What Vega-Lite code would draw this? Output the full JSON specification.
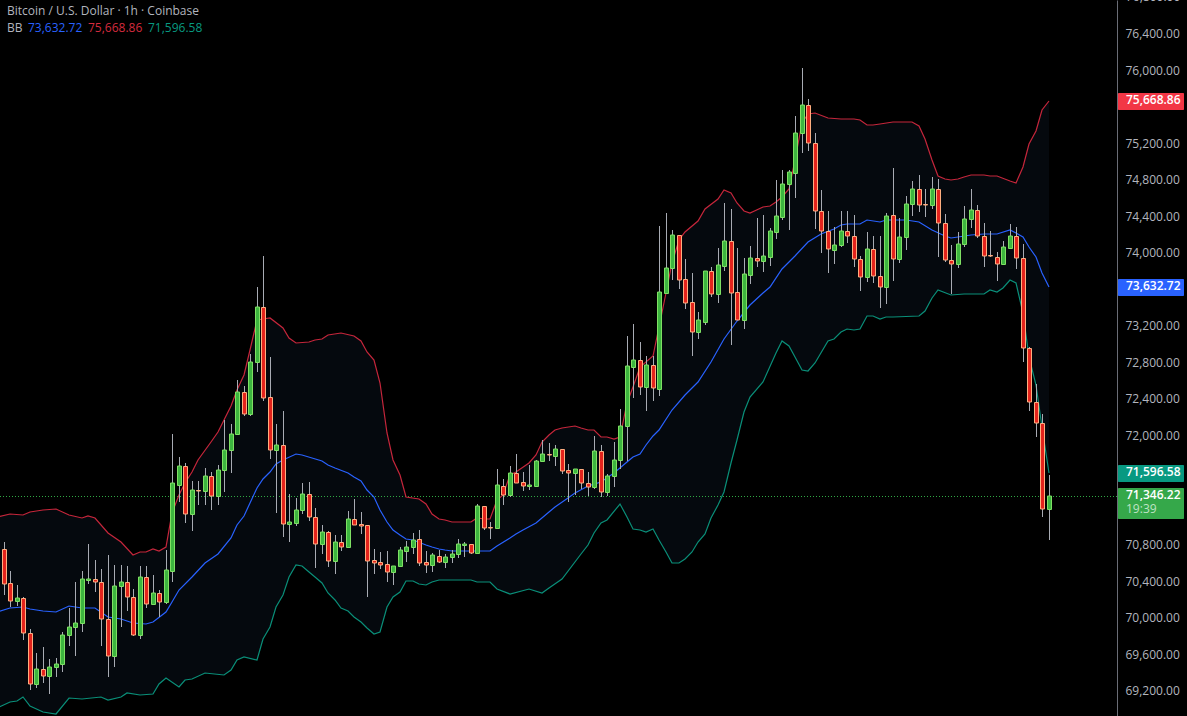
{"$schema":"https://vega.github.io/schema/vega-lite/v6.json","width":1117,"height":716,"padding":{"left":0,"top":0,"right":70,"bottom":0},"autosize":{"type":"none"},"background":"#000000","config":{"view":{"stroke":null},"scale":{"continuousPadding":0},"text":{"font":"Open Sans","fontSize":12}},
"datasets":{
"candles":[{"i":0,"o":70755,"h":70832,"l":70255,"c":70379},{"i":1,"o":70383,"h":70514,"l":70120,"c":70193},{"i":2,"o":70193,"h":70361,"l":70138,"c":70218},{"i":3,"o":70218,"h":70233,"l":69765,"c":69835},{"i":4,"o":69835,"h":69889,"l":69217,"c":69283},{"i":5,"o":69283,"h":69619,"l":69239,"c":69440},{"i":6,"o":69440,"h":69681,"l":69294,"c":69363},{"i":7,"o":69363,"h":69550,"l":69173,"c":69462},{"i":8,"o":69462,"h":69564,"l":69360,"c":69495},{"i":9,"o":69495,"h":69846,"l":69415,"c":69813},{"i":10,"o":69813,"h":70112,"l":69696,"c":69900},{"i":11,"o":69900,"h":70397,"l":69590,"c":69944},{"i":12,"o":69944,"h":70514,"l":69853,"c":70427},{"i":13,"o":70423,"h":70810,"l":70379,"c":70427},{"i":14,"o":70437,"h":70638,"l":70288,"c":70394},{"i":15,"o":70394,"h":70536,"l":69700,"c":69988},{"i":16,"o":69988,"h":70690,"l":69360,"c":69590},{"i":17,"o":69590,"h":70584,"l":69469,"c":70350},{"i":18,"o":70350,"h":70584,"l":69908,"c":70394},{"i":19,"o":70394,"h":70573,"l":70083,"c":70229},{"i":20,"o":70229,"h":70317,"l":69809,"c":69820},{"i":21,"o":69820,"h":70573,"l":69776,"c":70448},{"i":22,"o":70448,"h":70573,"l":70116,"c":70163},{"i":23,"o":70163,"h":70470,"l":70163,"c":70273},{"i":24,"o":70273,"h":70310,"l":70017,"c":70174},{"i":25,"o":70174,"h":70744,"l":70160,"c":70525},{"i":26,"o":70522,"h":72016,"l":70401,"c":71479},{"i":27,"o":71464,"h":71764,"l":71278,"c":71665},{"i":28,"o":71665,"h":71698,"l":71048,"c":71139},{"i":29,"o":71139,"h":71508,"l":70960,"c":71402},{"i":30,"o":71402,"h":71501,"l":71242,"c":71391},{"i":31,"o":71391,"h":71643,"l":71242,"c":71556},{"i":32,"o":71556,"h":71600,"l":71190,"c":71344},{"i":33,"o":71344,"h":71680,"l":71242,"c":71622},{"i":34,"o":71622,"h":72173,"l":71388,"c":71841},{"i":35,"o":71841,"h":72129,"l":71596,"c":72016},{"i":36,"o":72016,"h":72608,"l":72016,"c":72476},{"i":37,"o":72476,"h":72546,"l":72221,"c":72243},{"i":38,"o":72243,"h":72893,"l":72221,"c":72805},{"i":39,"o":72805,"h":73631,"l":72703,"c":73408},{"i":40,"o":73408,"h":73970,"l":72385,"c":72418},{"i":41,"o":72422,"h":72864,"l":71749,"c":71841},{"i":42,"o":71841,"h":72129,"l":71158,"c":71896},{"i":43,"o":71896,"h":72268,"l":70895,"c":71037},{"i":44,"o":71037,"h":71359,"l":70840,"c":71052},{"i":45,"o":71048,"h":71315,"l":71015,"c":71183},{"i":46,"o":71183,"h":71483,"l":71147,"c":71359},{"i":47,"o":71359,"h":71490,"l":71070,"c":71106},{"i":48,"o":71106,"h":71205,"l":70555,"c":70818},{"i":49,"o":70818,"h":71022,"l":70708,"c":70942},{"i":50,"o":70942,"h":70953,"l":70566,"c":70632},{"i":51,"o":70632,"h":70913,"l":70489,"c":70832},{"i":52,"o":70832,"h":70913,"l":70741,"c":70785},{"i":53,"o":70785,"h":71176,"l":70785,"c":71085},{"i":54,"o":71085,"h":71304,"l":71026,"c":71026},{"i":55,"o":71030,"h":71161,"l":70927,"c":71015},{"i":56,"o":71019,"h":71019,"l":70237,"c":70632},{"i":57,"o":70635,"h":70756,"l":70489,"c":70610},{"i":58,"o":70613,"h":70723,"l":70540,"c":70588},{"i":59,"o":70591,"h":70734,"l":70401,"c":70511},{"i":60,"o":70511,"h":70577,"l":70368,"c":70569},{"i":61,"o":70569,"h":70778,"l":70569,"c":70745},{"i":62,"o":70741,"h":70843,"l":70621,"c":70778},{"i":63,"o":70778,"h":70931,"l":70708,"c":70854},{"i":64,"o":70865,"h":70964,"l":70577,"c":70610},{"i":65,"o":70613,"h":70734,"l":70500,"c":70588},{"i":66,"o":70588,"h":70712,"l":70511,"c":70690},{"i":67,"o":70679,"h":70744,"l":70602,"c":70620},{"i":68,"o":70620,"h":70711,"l":70554,"c":70668},{"i":69,"o":70668,"h":70744,"l":70609,"c":70711},{"i":70,"o":70711,"h":70865,"l":70664,"c":70810},{"i":71,"o":70803,"h":70832,"l":70675,"c":70810},{"i":72,"o":70810,"h":70810,"l":70708,"c":70719},{"i":73,"o":70719,"h":71259,"l":70719,"c":71227},{"i":74,"o":71227,"h":71227,"l":70971,"c":70993},{"i":75,"o":71000,"h":71051,"l":70869,"c":70993},{"i":76,"o":70993,"h":71632,"l":70993,"c":71457},{"i":77,"o":71446,"h":71533,"l":71241,"c":71354},{"i":78,"o":71354,"h":71669,"l":71333,"c":71588},{"i":79,"o":71588,"h":71797,"l":71486,"c":71486},{"i":80,"o":71490,"h":71599,"l":71398,"c":71453},{"i":81,"o":71453,"h":71683,"l":71406,"c":71460},{"i":82,"o":71453,"h":71731,"l":71453,"c":71720},{"i":83,"o":71720,"h":71950,"l":71720,"c":71797},{"i":84,"o":71800,"h":71917,"l":71727,"c":71793},{"i":85,"o":71782,"h":71895,"l":71672,"c":71851},{"i":86,"o":71851,"h":71851,"l":71585,"c":71617},{"i":87,"o":71621,"h":71687,"l":71278,"c":71596},{"i":88,"o":71596,"h":71632,"l":71347,"c":71632},{"i":89,"o":71632,"h":71632,"l":71417,"c":71479},{"i":90,"o":71479,"h":71599,"l":71336,"c":71442},{"i":91,"o":71442,"h":71994,"l":71420,"c":71829},{"i":92,"o":71829,"h":71895,"l":71333,"c":71387},{"i":93,"o":71387,"h":71577,"l":71340,"c":71555},{"i":94,"o":71555,"h":71928,"l":71442,"c":71731},{"i":95,"o":71731,"h":72290,"l":71632,"c":72103},{"i":96,"o":72111,"h":73094,"l":71727,"c":72761},{"i":97,"o":72758,"h":73222,"l":72414,"c":72827},{"i":98,"o":72827,"h":73024,"l":72447,"c":72539},{"i":99,"o":72539,"h":72875,"l":72272,"c":72772},{"i":100,"o":72772,"h":72878,"l":72381,"c":72528},{"i":101,"o":72517,"h":74299,"l":72436,"c":73572},{"i":102,"o":73569,"h":74442,"l":73569,"c":73835},{"i":103,"o":73835,"h":74256,"l":73708,"c":74197},{"i":104,"o":74197,"h":74197,"l":73609,"c":73711},{"i":105,"o":73715,"h":73938,"l":73393,"c":73459},{"i":106,"o":73463,"h":73781,"l":72878,"c":73141},{"i":107,"o":73141,"h":73357,"l":73065,"c":73266},{"i":108,"o":73251,"h":73803,"l":73214,"c":73803},{"i":109,"o":73803,"h":73846,"l":73525,"c":73558},{"i":110,"o":73558,"h":74055,"l":73459,"c":73868},{"i":111,"o":73865,"h":74548,"l":73806,"c":74131},{"i":112,"o":74131,"h":74482,"l":72995,"c":73569},{"i":113,"o":73572,"h":74055,"l":73273,"c":73273},{"i":114,"o":73273,"h":73945,"l":73171,"c":73770},{"i":115,"o":73766,"h":74080,"l":73664,"c":73945},{"i":116,"o":73945,"h":74383,"l":73850,"c":73919},{"i":117,"o":73919,"h":74420,"l":73799,"c":73967},{"i":118,"o":73963,"h":74274,"l":73861,"c":74241},{"i":119,"o":74237,"h":74803,"l":74157,"c":74405},{"i":120,"o":74401,"h":74909,"l":74364,"c":74766},{"i":121,"o":74763,"h":74912,"l":74255,"c":74887},{"i":122,"o":74883,"h":75504,"l":74609,"c":75325},{"i":123,"o":75322,"h":76027,"l":75102,"c":75632},{"i":124,"o":75632,"h":75691,"l":75121,"c":75205},{"i":125,"o":75205,"h":75325,"l":74266,"c":74470},{"i":126,"o":74470,"h":74690,"l":74006,"c":74248},{"i":127,"o":74251,"h":74463,"l":73787,"c":74043},{"i":128,"o":74039,"h":74284,"l":73882,"c":74087},{"i":129,"o":74087,"h":74463,"l":74072,"c":74251},{"i":130,"o":74251,"h":74463,"l":74116,"c":74196},{"i":131,"o":74196,"h":74419,"l":73853,"c":73944},{"i":132,"o":73944,"h":73977,"l":73590,"c":73736},{"i":133,"o":73736,"h":74233,"l":73689,"c":74043},{"i":134,"o":74043,"h":74189,"l":73678,"c":73747},{"i":135,"o":73747,"h":74196,"l":73404,"c":73634},{"i":136,"o":73634,"h":74448,"l":73447,"c":74405},{"i":137,"o":74416,"h":74931,"l":73700,"c":73944},{"i":138,"o":73944,"h":74383,"l":73897,"c":74185},{"i":139,"o":74185,"h":74627,"l":74036,"c":74547},{"i":140,"o":74543,"h":74799,"l":74408,"c":74701},{"i":141,"o":74711,"h":74858,"l":74452,"c":74536},{"i":142,"o":74540,"h":74711,"l":74397,"c":74532},{"i":143,"o":74536,"h":74836,"l":74489,"c":74711},{"i":144,"o":74711,"h":74814,"l":73959,"c":74328},{"i":145,"o":74328,"h":74437,"l":73908,"c":73933},{"i":146,"o":73933,"h":74090,"l":73553,"c":73879},{"i":147,"o":73879,"h":74240,"l":73842,"c":74098},{"i":148,"o":74098,"h":74518,"l":74072,"c":74372},{"i":149,"o":74372,"h":74701,"l":74277,"c":74481},{"i":150,"o":74481,"h":74529,"l":74171,"c":74196},{"i":151,"o":74196,"h":74328,"l":73853,"c":73977},{"i":152,"o":73981,"h":74251,"l":73963,"c":73973},{"i":153,"o":73966,"h":74017,"l":73700,"c":73889},{"i":154,"o":73886,"h":74131,"l":73879,"c":74065},{"i":155,"o":74061,"h":74321,"l":74047,"c":74196},{"i":156,"o":74196,"h":74284,"l":73827,"c":73955},{"i":157,"o":73955,"h":74098,"l":72812,"c":72958},{"i":158,"o":72958,"h":72976,"l":72271,"c":72374},{"i":159,"o":72374,"h":72567,"l":71983,"c":72136},{"i":160,"o":72136,"h":72238,"l":71106,"c":71194},{"i":161,"o":71194,"h":71566,"l":70861,"c":71346.22}],
"upper":[{"i":-1,"v":71113},{"i":1,"v":71143},{"i":3,"v":71132},{"i":4,"v":71161},{"i":6,"v":71190},{"i":8,"v":71194},{"i":10,"v":71132},{"i":12,"v":71102},{"i":13,"v":71117},{"i":14,"v":71095},{"i":16,"v":70931},{"i":18,"v":70832},{"i":20,"v":70693},{"i":21,"v":70726},{"i":22,"v":70730},{"i":23,"v":70755},{"i":24,"v":70741},{"i":25,"v":70785},{"i":26,"v":71150},{"i":27,"v":71351},{"i":28,"v":71479},{"i":29,"v":71607},{"i":30,"v":71734},{"i":32,"v":71935},{"i":33,"v":72045},{"i":34,"v":72173},{"i":35,"v":72330},{"i":36,"v":72502},{"i":37,"v":72666},{"i":38,"v":72940},{"i":39,"v":73269},{"i":40,"v":73276},{"i":41,"v":73287},{"i":43,"v":73178},{"i":44,"v":73068},{"i":45,"v":73013},{"i":47,"v":73024},{"i":48,"v":73050},{"i":49,"v":73061},{"i":50,"v":73101},{"i":52,"v":73123},{"i":54,"v":73097},{"i":55,"v":73043},{"i":56,"v":72922},{"i":57,"v":72831},{"i":58,"v":72575},{"i":59,"v":72027},{"i":60,"v":71735},{"i":61,"v":71570},{"i":62,"v":71333},{"i":64,"v":71304},{"i":65,"v":71249},{"i":66,"v":71143},{"i":67,"v":71085},{"i":68,"v":71073},{"i":69,"v":71051},{"i":71,"v":71059},{"i":72,"v":71051},{"i":73,"v":71095},{"i":74,"v":71084},{"i":75,"v":71084},{"i":76,"v":71296},{"i":77,"v":71351},{"i":78,"v":71570},{"i":79,"v":71607},{"i":81,"v":71698},{"i":82,"v":71789},{"i":83,"v":71935},{"i":84,"v":72008},{"i":85,"v":72063},{"i":86,"v":72089},{"i":88,"v":72103},{"i":89,"v":72085},{"i":90,"v":72060},{"i":91,"v":72063},{"i":92,"v":71990},{"i":93,"v":71983},{"i":94,"v":71961},{"i":95,"v":71990},{"i":96,"v":72356},{"i":97,"v":72539},{"i":98,"v":72758},{"i":100,"v":72878},{"i":101,"v":73196},{"i":102,"v":73569},{"i":103,"v":73890},{"i":104,"v":74146},{"i":105,"v":74237},{"i":107,"v":74358},{"i":108,"v":74482},{"i":110,"v":74592},{"i":111,"v":74694},{"i":112,"v":74657},{"i":113,"v":74555},{"i":114,"v":74468},{"i":115,"v":74438},{"i":117,"v":74504},{"i":118,"v":74519},{"i":119,"v":74566},{"i":120,"v":74620},{"i":121,"v":74711},{"i":122,"v":75022},{"i":123,"v":75424},{"i":124,"v":75526},{"i":125,"v":75541},{"i":127,"v":75479},{"i":129,"v":75471},{"i":131,"v":75471},{"i":132,"v":75460},{"i":133,"v":75402},{"i":134,"v":75406},{"i":135,"v":75420},{"i":137,"v":75435},{"i":139,"v":75438},{"i":140,"v":75435},{"i":141,"v":75395},{"i":142,"v":75259},{"i":143,"v":75022},{"i":144,"v":74843},{"i":145,"v":74817},{"i":146,"v":74810},{"i":147,"v":74814},{"i":148,"v":74832},{"i":149,"v":74854},{"i":151,"v":74854},{"i":152,"v":74843},{"i":153,"v":74843},{"i":155,"v":74799},{"i":156,"v":74777},{"i":157,"v":74949},{"i":158,"v":75194},{"i":159,"v":75340},{"i":160,"v":75577},{"i":161,"v":75668.86}],
"mid":[{"i":-1,"v":70065},{"i":1,"v":70116},{"i":3,"v":70123},{"i":4,"v":70105},{"i":6,"v":70079},{"i":8,"v":70072},{"i":10,"v":70131},{"i":12,"v":70112},{"i":14,"v":70112},{"i":16,"v":70010},{"i":18,"v":69988},{"i":20,"v":69944},{"i":22,"v":69941},{"i":23,"v":69963},{"i":25,"v":70072},{"i":26,"v":70182},{"i":27,"v":70310},{"i":29,"v":70456},{"i":31,"v":70602},{"i":33,"v":70704},{"i":35,"v":70876},{"i":36,"v":71022},{"i":37,"v":71121},{"i":38,"v":71260},{"i":39,"v":71424},{"i":40,"v":71527},{"i":41,"v":71607},{"i":42,"v":71691},{"i":43,"v":71735},{"i":45,"v":71797},{"i":46,"v":71790},{"i":49,"v":71724},{"i":50,"v":71680},{"i":51,"v":71643},{"i":53,"v":71592},{"i":54,"v":71552},{"i":55,"v":71508},{"i":56,"v":71406},{"i":57,"v":71326},{"i":58,"v":71187},{"i":59,"v":71059},{"i":60,"v":70968},{"i":61,"v":70913},{"i":62,"v":70869},{"i":63,"v":70862},{"i":65,"v":70803},{"i":66,"v":70778},{"i":67,"v":70759},{"i":68,"v":70748},{"i":69,"v":70741},{"i":72,"v":70741},{"i":75,"v":70741},{"i":76,"v":70792},{"i":78,"v":70876},{"i":79,"v":70923},{"i":80,"v":70967},{"i":82,"v":71040},{"i":84,"v":71168},{"i":85,"v":71223},{"i":87,"v":71314},{"i":88,"v":71369},{"i":90,"v":71449},{"i":92,"v":71497},{"i":94,"v":71588},{"i":96,"v":71716},{"i":97,"v":71771},{"i":98,"v":71807},{"i":99,"v":71899},{"i":100,"v":71997},{"i":101,"v":72063},{"i":103,"v":72283},{"i":105,"v":72447},{"i":107,"v":72593},{"i":109,"v":72813},{"i":111,"v":73061},{"i":113,"v":73262},{"i":115,"v":73434},{"i":117,"v":73561},{"i":118,"v":73635},{"i":120,"v":73828},{"i":122,"v":73974},{"i":124,"v":74120},{"i":126,"v":74212},{"i":128,"v":74273},{"i":129,"v":74310},{"i":130,"v":74321},{"i":132,"v":74317},{"i":133,"v":74361},{"i":135,"v":74343},{"i":136,"v":74364},{"i":139,"v":74364},{"i":141,"v":74346},{"i":143,"v":74262},{"i":145,"v":74193},{"i":146,"v":74174},{"i":147,"v":74178},{"i":149,"v":74207},{"i":151,"v":74215},{"i":153,"v":74211},{"i":155,"v":74255},{"i":156,"v":74226},{"i":157,"v":74182},{"i":158,"v":74072},{"i":159,"v":73963},{"i":160,"v":73780},{"i":161,"v":73632.72}],
"lower":[{"i":-1,"v":69013},{"i":1,"v":69086},{"i":2,"v":69093},{"i":3,"v":69133},{"i":4,"v":69042},{"i":6,"v":68969},{"i":8,"v":68951},{"i":10,"v":69130},{"i":12,"v":69119},{"i":15,"v":69141},{"i":16,"v":69100},{"i":18,"v":69141},{"i":19,"v":69181},{"i":21,"v":69162},{"i":23,"v":69170},{"i":24,"v":69276},{"i":25,"v":69345},{"i":27,"v":69243},{"i":28,"v":69323},{"i":29,"v":69341},{"i":31,"v":69396},{"i":34,"v":69382},{"i":35,"v":69433},{"i":36,"v":69542},{"i":37,"v":69579},{"i":39,"v":69542},{"i":40,"v":69769},{"i":41,"v":69907},{"i":42,"v":70127},{"i":43,"v":70254},{"i":44,"v":70455},{"i":45,"v":70583},{"i":46,"v":70569},{"i":47,"v":70510},{"i":48,"v":70448},{"i":49,"v":70390},{"i":50,"v":70273},{"i":51,"v":70200},{"i":52,"v":70119},{"i":53,"v":70079},{"i":54,"v":70017},{"i":55,"v":69962},{"i":56,"v":69896},{"i":57,"v":69831},{"i":58,"v":69853},{"i":59,"v":70127},{"i":60,"v":70236},{"i":61,"v":70287},{"i":62,"v":70411},{"i":63,"v":70408},{"i":64,"v":70382},{"i":65,"v":70371},{"i":66,"v":70401},{"i":67,"v":70416},{"i":69,"v":70416},{"i":72,"v":70423},{"i":73,"v":70394},{"i":75,"v":70401},{"i":76,"v":70324},{"i":78,"v":70269},{"i":81,"v":70317},{"i":83,"v":70280},{"i":84,"v":70328},{"i":86,"v":70437},{"i":89,"v":70711},{"i":90,"v":70803},{"i":91,"v":70931},{"i":92,"v":71040},{"i":93,"v":71077},{"i":95,"v":71252},{"i":96,"v":71106},{"i":97,"v":70985},{"i":98,"v":70967},{"i":99,"v":70949},{"i":100,"v":70978},{"i":101,"v":70857},{"i":102,"v":70730},{"i":103,"v":70609},{"i":104,"v":70605},{"i":105,"v":70646},{"i":106,"v":70730},{"i":107,"v":70839},{"i":108,"v":70920},{"i":109,"v":71095},{"i":110,"v":71241},{"i":111,"v":71387},{"i":112,"v":71698},{"i":113,"v":71953},{"i":114,"v":72264},{"i":115,"v":72429},{"i":117,"v":72593},{"i":119,"v":72904},{"i":120,"v":73039},{"i":121,"v":72984},{"i":122,"v":72860},{"i":123,"v":72717},{"i":124,"v":72706},{"i":125,"v":72794},{"i":127,"v":73035},{"i":128,"v":73061},{"i":129,"v":73134},{"i":130,"v":73170},{"i":131,"v":73156},{"i":132,"v":73177},{"i":133,"v":73313},{"i":134,"v":73312},{"i":135,"v":73276},{"i":136,"v":73305},{"i":137,"v":73298},{"i":141,"v":73312},{"i":142,"v":73371},{"i":143,"v":73506},{"i":144,"v":73597},{"i":146,"v":73542},{"i":148,"v":73550},{"i":151,"v":73557},{"i":152,"v":73597},{"i":153,"v":73579},{"i":154,"v":73623},{"i":155,"v":73714},{"i":156,"v":73681},{"i":157,"v":73342},{"i":158,"v":72867},{"i":159,"v":72556},{"i":160,"v":72100},{"i":161,"v":71596.58}],
"tags":[{"series":"upper","top":75753,"bottom":75570,"price":75668.86,"label":"75,668.86"},{"series":"mid","top":73718,"bottom":73535,"price":73632.72,"label":"73,632.72"},{"series":"lower","top":71680,"bottom":71497,"price":71596.58,"label":"71,596.58"},{"series":"last","top":71424,"bottom":71091,"price":71346.22,"label":"71,346.22"}]
},
"layer":[
{"data":{"name":"upper"},"mark":{"type":"area","color":"#05090e","clip":true},"encoding":{"x":{"field":"i","type":"quantitative","scale":{"domain":[-0.5701,171.541],"round":true,"nice":false,"zero":false},"axis":null},"y":{"field":"v","type":"quantitative","title":null,"scale":{"domain":[68930,76777.4],"round":true,"nice":false,"zero":false},"axis":{"orient":"right","values":[69200,69600,70000,70400,70800,72000,72400,72800,73200,74000,74400,74800,75200,76000,76400],"format":",.2f","labelColor":"#b2b5be","labelFont":"Open Sans","labelFontSize":12,"labelPadding":8,"labelOverlap":false,"labelBound":false,"labelFlush":false,"ticks":false,"grid":false,"domain":true,"domainColor":"#6a6d76","domainWidth":1,"title":null,"labelOffset":-1}},"y2":{"value":716}}},
{"data":{"name":"lower"},"mark":{"type":"area","color":"#000000","clip":true},"encoding":{"x":{"field":"i","type":"quantitative","scale":{"domain":[-0.5701,171.541],"round":true,"nice":false,"zero":false},"axis":null},"y":{"field":"v","type":"quantitative","scale":{"domain":[68930,76777.4],"round":true,"nice":false,"zero":false}},"y2":{"value":716}}},
{"data":{"values":[{"price":71346.22}]},"mark":{"type":"rule","color":"#2fa843","strokeWidth":1,"strokeDash":[1,2],"yOffset":0.5},"encoding":{"y":{"field":"price","type":"quantitative","scale":{"domain":[68930,76777.4],"round":true,"nice":false,"zero":false}}}},
{"data":{"name":"upper"},"mark":{"type":"line","color":"#c5263b","strokeWidth":1.2,"clip":true},"encoding":{"x":{"field":"i","type":"quantitative","scale":{"domain":[-0.5701,171.541],"round":true,"nice":false,"zero":false},"axis":null},"y":{"field":"v","type":"quantitative","scale":{"domain":[68930,76777.4],"round":true,"nice":false,"zero":false}}}},
{"data":{"name":"mid"},"mark":{"type":"line","color":"#2962ff","strokeWidth":1.2,"clip":true},"encoding":{"x":{"field":"i","type":"quantitative","scale":{"domain":[-0.5701,171.541],"round":true,"nice":false,"zero":false},"axis":null},"y":{"field":"v","type":"quantitative","scale":{"domain":[68930,76777.4],"round":true,"nice":false,"zero":false}}}},
{"data":{"name":"lower"},"mark":{"type":"line","color":"#0a8f79","strokeWidth":1.2,"clip":true},"encoding":{"x":{"field":"i","type":"quantitative","scale":{"domain":[-0.5701,171.541],"round":true,"nice":false,"zero":false},"axis":null},"y":{"field":"v","type":"quantitative","scale":{"domain":[68930,76777.4],"round":true,"nice":false,"zero":false}}}},
{"data":{"name":"candles"},"mark":{"type":"rule","color":"#a8abb3","strokeWidth":1,"xOffset":0.5},"encoding":{"x":{"field":"i","type":"quantitative","scale":{"domain":[-0.5701,171.541],"round":true,"nice":false,"zero":false},"axis":null},"y":{"field":"l","type":"quantitative","scale":{"domain":[68930,76777.4],"round":true,"nice":false,"zero":false}},"y2":{"field":"h"}}},
{"data":{"name":"candles"},"mark":{"type":"bar","width":4,"strokeWidth":1,"xOffset":0.5,"yOffset":0.5},"encoding":{"x":{"field":"i","type":"quantitative","scale":{"domain":[-0.5701,171.541],"round":true,"nice":false,"zero":false},"axis":null},"y":{"field":"o","type":"quantitative","scale":{"domain":[68930,76777.4],"round":true,"nice":false,"zero":false}},"y2":{"field":"c"},"fill":{"condition":{"test":"datum.c>=datum.o","value":"#3db53f"},"value":"#e3231c"},"stroke":{"condition":{"test":"datum.c>=datum.o","value":"#7fe064"},"value":"#ffae80"}}},
{"data":{"name":"tags"},"mark":{"type":"rect","clip":false,"cornerRadius":1},"encoding":{"x":{"datum":171.72,"scale":{"domain":[-0.5701,171.541],"round":true,"nice":false,"zero":false},"axis":null},"x2":{"datum":181.88},"y":{"field":"top","type":"quantitative","scale":{"domain":[68930,76777.4],"round":true,"nice":false,"zero":false}},"y2":{"field":"bottom"},"color":{"field":"series","type":"nominal","legend":null,"scale":{"domain":["upper","mid","lower","last"],"range":["#f23645","#2962ff","#089981","#35a84a"]}}}},
{"data":{"name":"tags"},"mark":{"type":"text","align":"left","baseline":"middle","color":"#ffffff","clip":false,"dy":-1,"fontWeight":600},"encoding":{"x":{"datum":172.9,"scale":{"domain":[-0.5701,171.541],"round":true,"nice":false,"zero":false},"axis":null},"y":{"field":"price","type":"quantitative","scale":{"domain":[68930,76777.4],"round":true,"nice":false,"zero":false}},"text":{"field":"label"}}},
{"data":{"values":[{"price":71194,"label":"19:39"}]},"mark":{"type":"text","align":"left","baseline":"middle","color":"#bfe3c4","clip":false},"encoding":{"x":{"datum":172.9,"scale":{"domain":[-0.5701,171.541],"round":true,"nice":false,"zero":false},"axis":null},"y":{"field":"price","type":"quantitative","scale":{"domain":[68930,76777.4],"round":true,"nice":false,"zero":false}},"text":{"field":"label"}}},
{"data":{"values":[{"price":76800,"label":"76,800.00"}]},"mark":{"type":"text","align":"left","baseline":"middle","color":"#b2b5be","clip":false,"dy":-1},"encoding":{"x":{"datum":172.9,"scale":{"domain":[-0.5701,171.541],"round":true,"nice":false,"zero":false},"axis":null},"y":{"field":"price","type":"quantitative","scale":{"domain":[68930,76777.4],"round":true,"nice":false,"zero":false}},"text":{"field":"label"}}},
{"data":{"values":[{"label":"Bitcoin / U.S. Dollar · 1h · Coinbase"}]},"mark":{"type":"text","align":"left","baseline":"middle","color":"#b2b5be"},"encoding":{"x":{"datum":0.5,"scale":{"domain":[-0.5701,171.541],"round":true,"nice":false,"zero":false},"axis":null},"y":{"datum":76661,"scale":{"domain":[68930,76777.4],"round":true,"nice":false,"zero":false}},"text":{"field":"label"}}},
{"data":{"values":[{"label":"BB"}]},"mark":{"type":"text","align":"left","baseline":"middle","color":"#b2b5be"},"encoding":{"x":{"datum":0.5,"scale":{"domain":[-0.5701,171.541],"round":true,"nice":false,"zero":false},"axis":null},"y":{"datum":76469,"scale":{"domain":[68930,76777.4],"round":true,"nice":false,"zero":false}},"text":{"field":"label"}}},
{"data":{"values":[{"label":"73,632.72"}]},"mark":{"type":"text","align":"left","baseline":"middle","color":"#2962ff"},"encoding":{"x":{"datum":3.74,"scale":{"domain":[-0.5701,171.541],"round":true,"nice":false,"zero":false},"axis":null},"y":{"datum":76469,"scale":{"domain":[68930,76777.4],"round":true,"nice":false,"zero":false}},"text":{"field":"label"}}},
{"data":{"values":[{"label":"75,668.86"}]},"mark":{"type":"text","align":"left","baseline":"middle","color":"#d42b3e"},"encoding":{"x":{"datum":12.99,"scale":{"domain":[-0.5701,171.541],"round":true,"nice":false,"zero":false},"axis":null},"y":{"datum":76469,"scale":{"domain":[68930,76777.4],"round":true,"nice":false,"zero":false}},"text":{"field":"label"}}},
{"data":{"values":[{"label":"71,596.58"}]},"mark":{"type":"text","align":"left","baseline":"middle","color":"#089981"},"encoding":{"x":{"datum":22.23,"scale":{"domain":[-0.5701,171.541],"round":true,"nice":false,"zero":false},"axis":null},"y":{"datum":76469,"scale":{"domain":[68930,76777.4],"round":true,"nice":false,"zero":false}},"text":{"field":"label"}}}
]}
